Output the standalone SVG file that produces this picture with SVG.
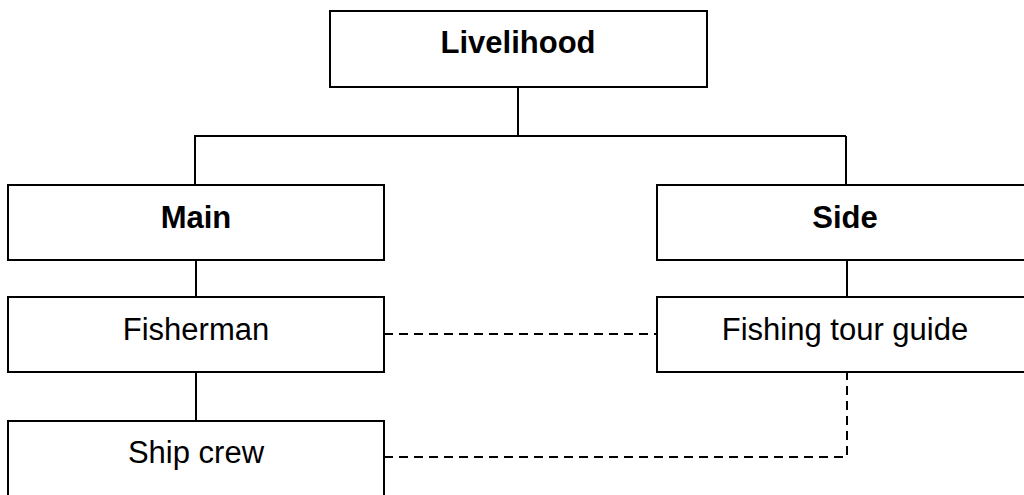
<svg xmlns="http://www.w3.org/2000/svg" width="1024" height="495" viewBox="0 0 1024 495">
<style>
.box{fill:#fff;stroke:#000;stroke-width:2}
.t{font-family:"Liberation Sans",Arial,sans-serif;font-size:31px;fill:#000;text-anchor:middle}
.b{font-weight:bold}
.ln{fill:none;stroke:#000;stroke-width:2}
.d{fill:none;stroke:#000;stroke-width:2;stroke-dasharray:9 6}
</style>
<rect width="1024" height="495" fill="#fff"/>
<g id="connectors">
<path class="ln" d="M518,87 V136 M194,136 H846 M195,136 V185 M846,136 V185"/>
<path class="ln" d="M196,260 V297 M196,372 V421 M847,260 V297"/>
<path class="d" d="M384,334 H657"/>
<path class="d" d="M384,457 H847 V372"/>
</g>
<g id="livelihood"><rect class="box" x="330" y="11" width="377" height="76"/><text class="t b" x="518" y="53">Livelihood</text></g>
<g id="main"><rect class="box" x="8" y="185" width="376" height="75"/><text class="t b" x="196" y="228">Main</text></g>
<g id="side"><rect class="box" x="657" y="185" width="377" height="75"/><text class="t b" x="845" y="228">Side</text></g>
<g id="fisherman"><rect class="box" x="8" y="297" width="376" height="75"/><text class="t" x="196" y="340">Fisherman</text></g>
<g id="guide"><rect class="box" x="657" y="297" width="377" height="75"/><text class="t" x="845" y="340">Fishing tour guide</text></g>
<g id="crew"><rect class="box" x="8" y="421" width="376" height="85"/><text class="t" x="196" y="463">Ship crew</text></g>
</svg>
